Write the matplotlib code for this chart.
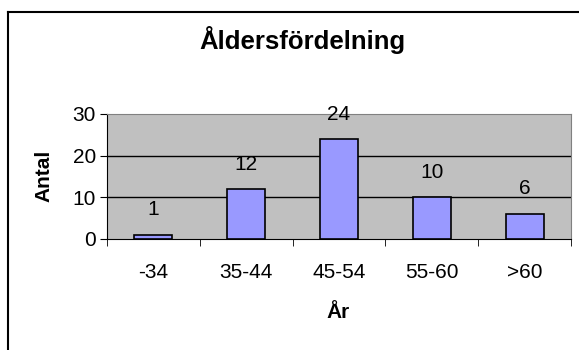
import matplotlib.pyplot as plt
from matplotlib.lines import Line2D

categories = ["-34", "35-44", "45-54", "55-60", ">60"]
counts = [1, 12, 24, 10, 6]
y_ticks = [0, 10, 20, 30]

plt.rcParams['font.family'] = ['Liberation Sans', 'DejaVu Sans']

W, H = 579, 350
fig = plt.figure(figsize=(W / 100, H / 100), dpi=100)
ax = fig.add_axes([107 / W, 1 - 239 / H, (571 - 107) / W, (239 - 114) / H])

ax.set_facecolor("#C0C0C0")
x = range(len(categories))
ax.bar(x, counts, width=0.41, color="#9999FF", edgecolor="black", linewidth=1.2, zorder=3)
for xi, v in zip(x, counts):
    ax.annotate(str(v), (xi, v), xytext=(0, 18), textcoords="offset points",
                ha="center", va="center", fontsize=15)

ax.set_xlim(-0.5, len(categories) - 0.5)
ax.set_ylim(0, 30)
ax.set_yticks(y_ticks)
ax.set_yticklabels([str(t) for t in y_ticks], fontsize=15)
for t in y_ticks[1:-1]:
    ax.axhline(t, color="black", linewidth=1, zorder=1)

# category labels centred, ticks on category boundaries
ax.set_xticks(list(x))
ax.set_xticklabels(categories, fontsize=15)
ax.tick_params(axis="x", length=0, pad=17)
ax.set_xticks([i - 0.5 for i in range(len(categories) + 1)], minor=True)
ax.tick_params(axis="x", which="minor", length=5, direction="out", color="black")
ax.tick_params(axis="y", length=5, direction="out", pad=3)

for s in ["top", "right"]:
    ax.spines[s].set_color("#808080")
ax.spines["left"].set_color("black")
ax.spines["bottom"].set_color("black")

fig.text(338 / W, 1 - 313 / H, "År", ha="center", va="center", fontsize=15, fontweight="bold")
fig.text(44 / W, 1 - 176 / H, "Antal", ha="center", va="center", rotation=90,
         fontsize=15, fontweight="bold")
fig.text(302 / W, 1 - 40 / H, "Åldersfördelning", ha="center", va="center",
         fontsize=18.5, fontweight="bold")

# outer chart border (top and left visible)
fig.add_artist(Line2D([8 / W, 1], [1 - 12 / H, 1 - 12 / H], color="black", linewidth=1.5))
fig.add_artist(Line2D([8 / W, 8 / W], [0, 1 - 12 / H], color="black", linewidth=1.5))

fig.savefig("out.png", dpi=100)
